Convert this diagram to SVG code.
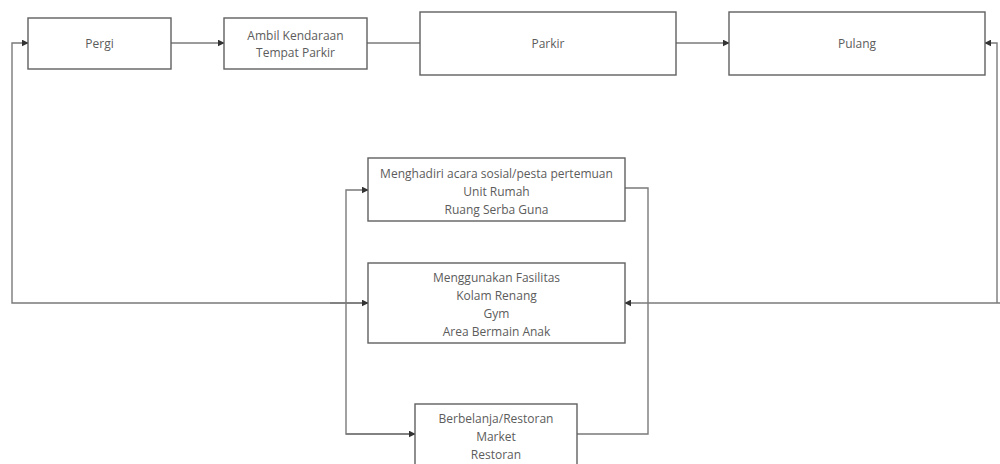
<svg xmlns="http://www.w3.org/2000/svg" width="1000" height="464" viewBox="0 0 1000 464">
<style>
.box{fill:#fff;stroke:#606060;stroke-width:1.4}
.t{font-family:"Open Sans","Liberation Sans",sans-serif;font-size:12px;fill:#5c5c5c;text-anchor:middle}
.c{fill:none;stroke:#7a7a7a;stroke-width:1.4}
</style>
<defs>
<marker id="a" viewBox="0 0 10 10" refX="9" refY="5" markerWidth="7" markerHeight="7" markerUnits="userSpaceOnUse" orient="auto">
<path d="M0,0 L10,5 L0,10 z" fill="#333"/>
</marker>
</defs>
<rect width="1000" height="464" fill="#fff"/>
<g id="connectors">
<path class="c" d="M171 43 H224" marker-end="url(#a)"/>
<path class="c" d="M367 43 H420"/>
<path class="c" d="M676 43 H729" marker-end="url(#a)"/>
<path class="c" d="M997 303 V43 H985" marker-end="url(#a)"/>
<path class="c" d="M1000 303 H625" marker-end="url(#a)"/>
<path class="c" d="M368 303 H12 V43 H28" marker-end="url(#a)"/>
<path class="c" d="M330 303 H368" marker-end="url(#a)"/>
<path class="c" d="M415 434 H346 V190 H368" marker-end="url(#a)"/>
<path class="c" d="M346 434 H415" marker-end="url(#a)"/>
<path class="c" d="M625 188 H648 V434 H577"/>
</g>
<g id="pergi"><rect class="box" x="28" y="18" width="143" height="51"/><text class="t" x="99.5" y="48">Pergi</text></g>
<g id="ambil"><rect class="box" x="224" y="18" width="143" height="51"/><text class="t" x="295.5" y="40">Ambil Kendaraan</text><text class="t" x="295.5" y="57">Tempat Parkir</text></g>
<g id="parkir"><rect class="box" x="420" y="12" width="256" height="63"/><text class="t" x="548" y="48">Parkir</text></g>
<g id="pulang"><rect class="box" x="729" y="12" width="256" height="63"/><text class="t" x="857" y="48">Pulang</text></g>
<g id="sosial"><rect class="box" x="368" y="158" width="257" height="63"/><text class="t" x="496.5" y="178">Menghadiri acara sosial/pesta pertemuan</text><text class="t" x="496.5" y="196">Unit Rumah</text><text class="t" x="496.5" y="214">Ruang Serba Guna</text></g>
<g id="fasilitas"><rect class="box" x="368" y="263" width="257" height="80"/><text class="t" x="496.5" y="282">Menggunakan Fasilitas</text><text class="t" x="496.5" y="300">Kolam Renang</text><text class="t" x="496.5" y="318">Gym</text><text class="t" x="496.5" y="336">Area Bermain Anak</text></g>
<g id="belanja"><rect class="box" x="415" y="404" width="162" height="70"/><text class="t" x="496" y="423">Berbelanja/Restoran</text><text class="t" x="496" y="441">Market</text><text class="t" x="496" y="459">Restoran</text></g>
</svg>
